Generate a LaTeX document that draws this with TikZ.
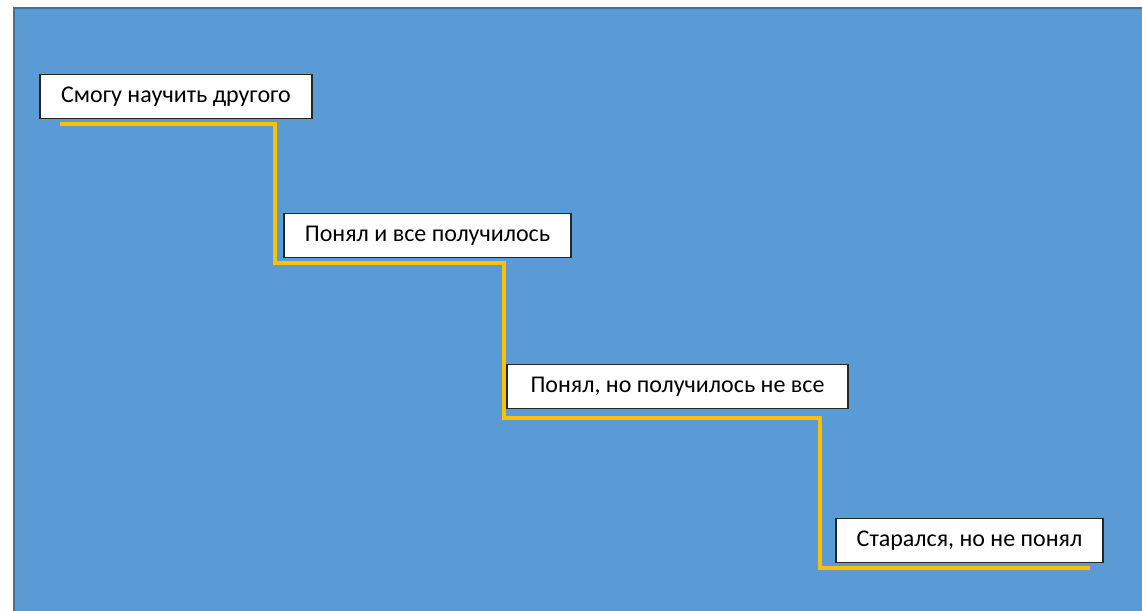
\documentclass[tikz,border=0pt]{standalone}
\usepackage{fontspec}
\setmainfont{Carlito}
\usepackage{xcolor}
\definecolor{fon}{HTML}{5B9BD5}
\definecolor{ramka}{HTML}{41719C}
\definecolor{lest}{HTML}{FFC000}

\tikzset{
  stupen/.style={draw=black!85,line width=1.6pt,fill=white,minimum height=44pt,
    inner sep=0pt,font=\fontsize{24}{28}\selectfont},
  lestnica/.style={lest,line width=3.5pt}
}

\begin{document}
\begin{tikzpicture}[x=1pt,y=-1pt]
\useasboundingbox (0,0) rectangle (1142,610);
\begin{scope}
\clip (0,0) rectangle (1142,610);
\fill[fon,draw=ramka,line width=1.8pt] (14,8) rectangle (1160,630);
\end{scope}
% ступени
\node[stupen,minimum width=272pt] (s1) at (176,96.5) {Смогу научить другого};
\node[stupen,minimum width=287pt] (s2) at (427.5,235.5) {Понял и все получилось};
\node[stupen,minimum width=341pt] (s3) at (677.5,386.5) {Понял, но получилось не все};
\node[stupen,minimum width=267pt] (s4) at (969.5,540.5) {Старался, но не понял};
% лестница
\coordinate (a0) at (60,124);
\coordinate (a1) at (275,124);
\coordinate (a2) at (275,263);
\coordinate (a3) at (504,263);
\coordinate (a4) at (504,418);
\coordinate (a5) at (820,418);
\coordinate (a6) at (820,568);
\coordinate (a7) at (1090,568);
\draw[lestnica] (a0) -- (a1) -- (a2) -- (a3) -- (a4) -- (a5) -- (a6) -- (a7);
\end{tikzpicture}
\end{document}
